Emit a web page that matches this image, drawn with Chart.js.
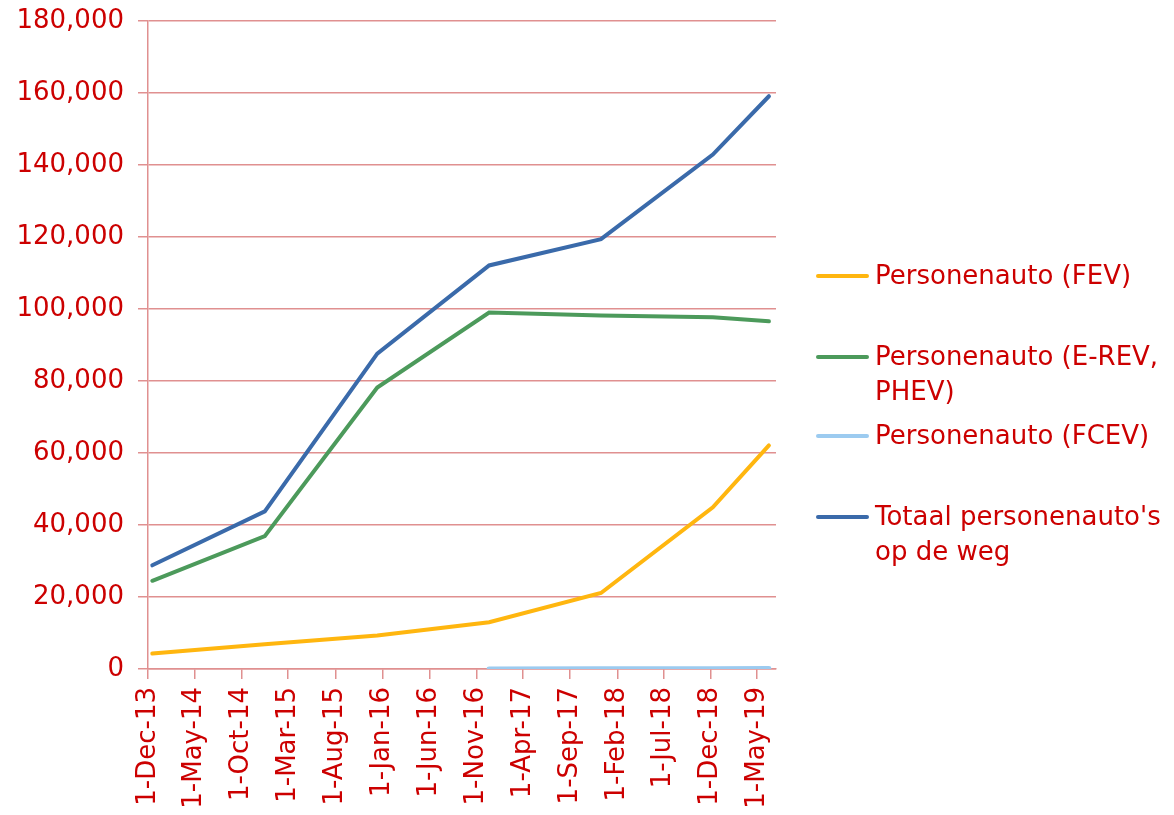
<!DOCTYPE html>
<html>
<head>
<meta charset="utf-8">
<script src="https://cdn.jsdelivr.net/npm/chart.js@4"></script>
<style>
  body { margin: 0; background: #fff; }
  #wrap { position: relative; width: 1174px; height: 815px; }
  #legend { position: absolute; left: 816px; top: 0; font-family: "DejaVu Sans", Verdana, sans-serif; font-size: 26px; color: #CC0000; line-height: 35px; }
  .item { position: absolute; left: 0; display: flex; white-space: nowrap; }
  .swatch { width: 53px; height: 4px; border-radius: 2px; margin-top: 16px; margin-right: 6px; flex: none; }
</style>
</head>
<body>
<div id="wrap">
  <canvas id="evChart" width="1174" height="815"></canvas>
  <div id="legend"></div>
</div>
<script>
const pointDates = ['2013-12-15', '2014-12-15', '2015-12-15', '2016-12-12', '2017-12-10', '2018-12-08', '2019-06-08'];

// Series values
const fev   = [4300, 6900, 9300, 13000, 21100, 44900, 62100];
const phev  = [24500, 36900, 78200, 99000, 98200, 97700, 96600];
const fcev  = [null, null, null, 30, 60, 100, 150];
const total = [28800, 43800, 87600, 112100, 119400, 142900, 159100];

// X axis ticks
const tickDates  = ['2013-12-01', '2014-05-01', '2014-10-01', '2015-03-01', '2015-08-01', '2016-01-01', '2016-06-01',
                    '2016-11-01', '2017-04-01', '2017-09-01', '2018-02-01', '2018-07-01', '2018-12-01', '2019-05-01'];
const tickLabels = ['1-Dec-13', '1-May-14', '1-Oct-14', '1-Mar-15', '1-Aug-15', '1-Jan-16', '1-Jun-16',
                    '1-Nov-16', '1-Apr-17', '1-Sep-17', '1-Feb-18', '1-Jul-18', '1-Dec-18', '1-May-19'];
const axisEnd = '2019-07-01';

const seriesNames = ['Personenauto (FEV)', 'Personenauto (E-REV, PHEV)', 'Personenauto (FCEV)', "Totaal personenauto's op de weg"];
const colors = ['#FFB60F', '#4C9A5B', '#9CCBF0', '#3A6AAA'];

const red = '#CC0000';
const gridRed = '#E09090';
const font = { family: '"DejaVu Sans", Verdana, sans-serif', size: 26 };

// days since the first tick
const day0 = Date.parse(tickDates[0]);
const toDay = d => (Date.parse(d) - day0) / 86400000;
const tickDays = tickDates.map(toDay);

const pts = vals => vals.map((v, i) => ({ x: toDay(pointDates[i]), y: v }));

const ctx = document.getElementById('evChart').getContext('2d');
new Chart(ctx, {
  type: 'line',
  data: {
    datasets: [fev, phev, fcev, total].map((vals, i) => ({
      label: seriesNames[i],
      data: pts(vals),
      borderColor: colors[i],
      backgroundColor: colors[i],
      borderWidth: i === 2 ? 5 : 4,
      pointRadius: 0,
      tension: 0,
      borderCapStyle: 'round',
      spanGaps: false
    }))
  },
  options: {
    responsive: false,
    animation: false,
    layout: { padding: { top: 21, right: 398, bottom: 0, left: 0 } },
    plugins: { legend: { display: false }, tooltip: { enabled: false } },
    scales: {
      x: {
        type: 'linear',
        min: 0,
        max: toDay(axisEnd),
        afterBuildTicks: scale => { scale.ticks = tickDays.map(v => ({ value: v })); },
        afterFit: scale => { scale.height = 146; scale.paddingLeft = 0; scale.paddingRight = 0; },
        ticks: {
          color: red, font: font, padding: 8,
          minRotation: 90, maxRotation: 90, autoSkip: false,
          callback: (v, i) => tickLabels[i]
        },
        grid: { drawOnChartArea: false, color: gridRed, lineWidth: 1.5, tickLength: 10 },
        border: { color: gridRed, width: 1.5 }
      },
      y: {
        min: 0,
        max: 180000,
        afterFit: scale => { scale.width = 148; scale.paddingTop = 0; scale.paddingBottom = 0; },
        ticks: {
          stepSize: 20000, color: red, font: font, padding: 14,
          callback: v => v.toLocaleString('en-US')
        },
        grid: { color: gridRed, lineWidth: 1.5, tickLength: 10 },
        border: { color: gridRed, width: 1.5 }
      }
    }
  }
});

// legend beside the chart
const legendTops = [258, 339, 418, 499];
const legend = document.getElementById('legend');
seriesNames.forEach((name, i) => {
  const item = document.createElement('div');
  item.className = 'item';
  item.style.top = legendTops[i] + 'px';
  const sw = document.createElement('div');
  sw.className = 'swatch';
  sw.style.background = colors[i];
  const txt = document.createElement('div');
  txt.style.width = '300px';
  txt.style.whiteSpace = 'normal';
  txt.textContent = name;
  item.appendChild(sw);
  item.appendChild(txt);
  legend.appendChild(item);
});
</script>
</body>
</html>
